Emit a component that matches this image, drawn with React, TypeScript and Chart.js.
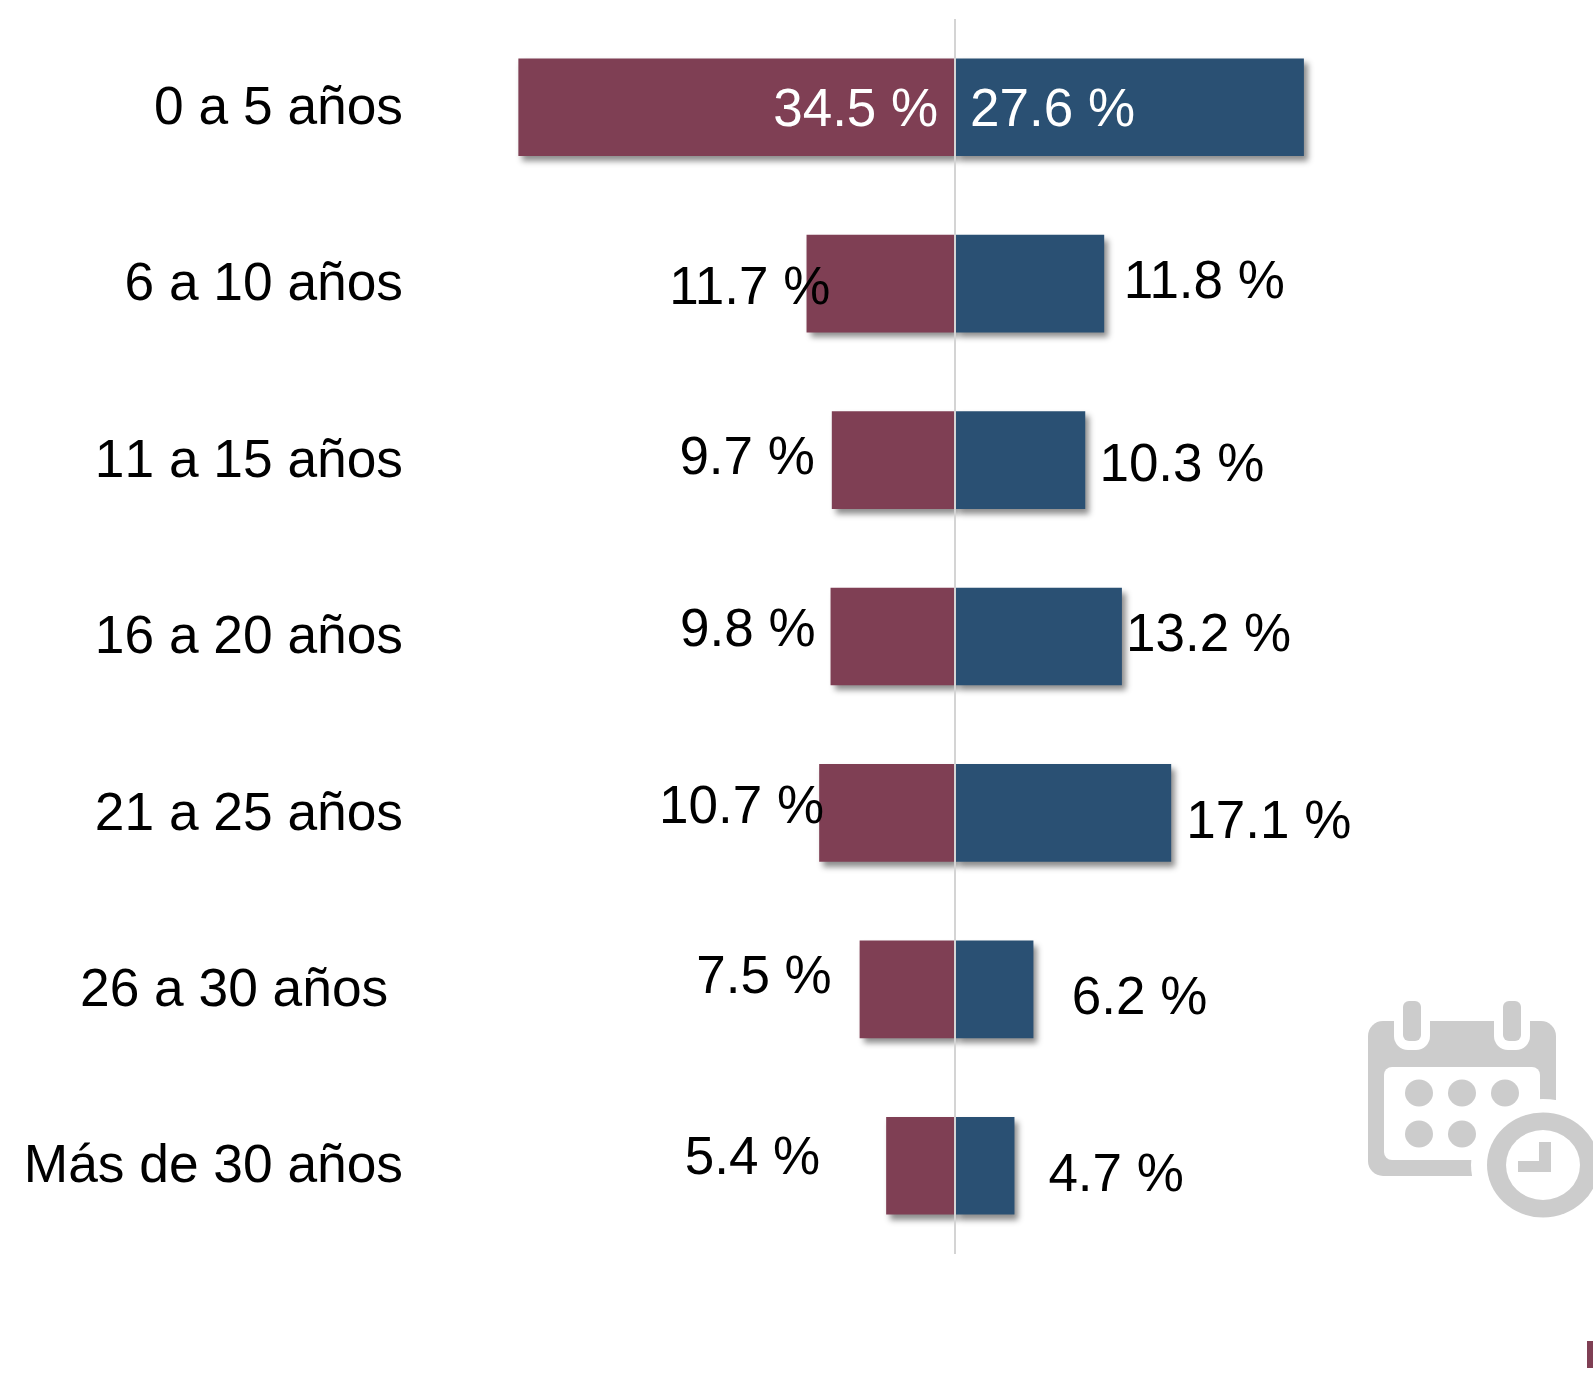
import React, { useEffect, useRef } from "react";
import { Chart, registerables } from "chart.js";

Chart.register(...registerables);

const categories = ["0 a 5 años", "6 a 10 años", "11 a 15 años", "16 a 20 años", "21 a 25 años", "26 a 30 años ", "Más de 30 años"];
const leftValues = [34.5, 11.7, 9.7, 9.8, 10.7, 7.5, 5.4];
const rightValues = [27.6, 11.8, 10.3, 13.2, 17.1, 6.2, 4.7];

const MAROON = "#7F3F54";
const BLUE = "#2A5073";
const FONT = '"Liberation Sans", Arial, sans-serif';

// label placement relative to each bar's end (label centre, px)
const leftLabelDx = [337, -57, -85, -83, -78, -96, -134];
const leftLabelDy = [4, 5.5, -1, -5.5, -5, -10.5, -6];
const rightLabelDx = [-251, 100.5, 97, 87, 98, 106.4, 102];
const rightLabelDy = [4, -0.5, 6, -0.5, 10, 10.5, 11];

const tickKerning = {
  id: "tickKerning",
  beforeDraw(chart: any) {
    chart.ctx.fontKerning = "none";
  },
};

const barShadow = {
  id: "barShadow",
  beforeDatasetDraw(chart: any) {
    const c = chart.ctx;
    c.save();
    c.shadowColor = "rgba(0,0,0,0.45)";
    c.shadowBlur = 6;
    c.shadowOffsetX = 4;
    c.shadowOffsetY = 5;
  },
  afterDatasetDraw(chart: any) {
    chart.ctx.restore();
  },
};

const valueLabels = {
  id: "valueLabels",
  afterDraw(chart: any) {
    const c = chart.ctx;
    const x = chart.scales.x;
    const y = chart.scales.y;
    c.save();
    c.fontKerning = "normal";
    c.font = `53px ${FONT}`;
    c.textAlign = "center";
    c.textBaseline = "middle";
    categories.forEach((_, i) => {
      c.fillStyle = i === 0 ? "#FFFFFF" : "#000000";
      const cy = y.getPixelForValue(i);
      c.fillText(`${leftValues[i].toFixed(1)} %`, x.getPixelForValue(-leftValues[i]) + leftLabelDx[i], cy + leftLabelDy[i]);
      c.fillText(`${rightValues[i].toFixed(1)} %`, x.getPixelForValue(rightValues[i]) + rightLabelDx[i], cy + rightLabelDy[i]);
    });
    c.restore();
  },
};

export default function App() {
  const ref = useRef<HTMLCanvasElement>(null);
  useEffect(() => {
    document.body.style.margin = "0";
    const chart = new Chart(ref.current as HTMLCanvasElement, {
      type: "bar",
      data: {
        labels: categories,
        datasets: [
          { label: "Serie granate", data: leftValues.map((v) => -v), backgroundColor: MAROON, barThickness: 97, order: 2 },
          { label: "Serie azul", data: rightValues, backgroundColor: BLUE, barThickness: 97, order: 1 },
        ],
      },
      options: {
        indexAxis: "y",
        animation: false,
        responsive: false,
        layout: { padding: { top: 19, bottom: 121, left: 0, right: 0 } },
        plugins: { legend: { display: false }, tooltip: { enabled: false } },
        scales: {
          x: {
            stacked: true,
            min: -43.1,
            max: 50.5,
            ticks: { display: false },
            border: { display: false },
            afterBuildTicks(scale: any) {
              scale.ticks = [{ value: 0 }];
            },
            grid: {
              z: 1,
              drawTicks: false,
              lineWidth: 2,
              color: "#D4D4D4",
            },
          },
          y: {
            stacked: true,
            ticks: { color: "#000000", font: { family: FONT, size: 53.3 }, padding: 7, labelOffset: 2 },
            border: { display: false },
            grid: { display: false, drawTicks: false },
            afterFit(scale: any) {
              scale.width = 410;
              scale.paddingTop = 0;
              scale.paddingBottom = 0;
            },
          },
        },
      } as any,
      plugins: [tickKerning, barShadow, valueLabels],
    } as any);
    return () => chart.destroy();
  }, []);

  return (
    <div style={{ position: "absolute", left: 0, top: 0, width: 1593, height: 1375, overflow: "hidden", background: "#fff" }}>
      <canvas ref={ref} width={1593} height={1375} style={{ display: "block" }} />
      <svg width={1593} height={1375} style={{ position: "absolute", left: 0, top: 0 }}>
        <g fill="#CCCCCC">
          <rect x={1368} y={1021} width={188} height={155} rx={15} />
        </g>
        <rect x={1384} y={1067} width={156} height={93} rx={8} fill="#fff" />
        <rect x={1394} y={1010} width={36} height={40} rx={14} fill="#fff" />
        <rect x={1494} y={1010} width={36} height={40} rx={14} fill="#fff" />
        <rect x={1394} y={1010} width={36} height={20} fill="#fff" />
        <rect x={1494} y={1010} width={36} height={20} fill="#fff" />
        <rect x={1403} y={1001} width={18} height={40} rx={6} fill="#CCCCCC" />
        <rect x={1503} y={1001} width={18} height={40} rx={6} fill="#CCCCCC" />
        <g fill="#CCCCCC">
          <ellipse cx={1419} cy={1093} rx={14} ry={13.5} />
          <ellipse cx={1462} cy={1093} rx={14} ry={13.5} />
          <ellipse cx={1505} cy={1093} rx={14} ry={13.5} />
          <ellipse cx={1419} cy={1134} rx={14} ry={13.5} />
          <ellipse cx={1462} cy={1134} rx={14} ry={13.5} />
        </g>
        <ellipse cx={1543} cy={1165} rx={72} ry={66} fill="#fff" />
        <ellipse cx={1543} cy={1165} rx={56} ry={52.5} fill="#CCCCCC" />
        <ellipse cx={1543} cy={1165} rx={37} ry={35} fill="#fff" />
        <path d="M1539 1142 H1551 V1172 H1518 V1161 H1539 Z" fill="#CCCCCC" />
        <rect x={1587} y={1341} width={6} height={27} fill={MAROON} />
      </svg>
    </div>
  );
}
